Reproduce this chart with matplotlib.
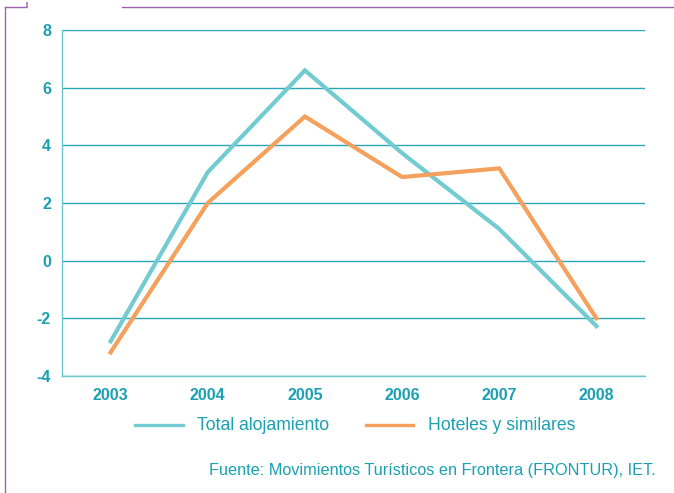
import matplotlib.pyplot as plt
from matplotlib.lines import Line2D

years = ['2003', '2004', '2005', '2006', '2007', '2008']
total_alojamiento = [-2.8, 3.07, 6.6, 3.73, 1.1, -2.27]
hoteles = [-3.18, 2.0, 5.0, 2.9, 3.2, -2.0]
yticks = [-4, -2, 0, 2, 4, 6, 8]

teal = '#72cbd0'
orange = '#f5a05c'
text_col = '#1aa0b2'
grid_col = '#2aa7b5'
purple = '#9c62b0'

plt.rcParams['font.family'] = ['Liberation Sans', 'DejaVu Sans']

fig = plt.figure(figsize=(6.74, 4.93), dpi=100)
ax = fig.add_axes([62 / 674, 1 - 376 / 493, 583 / 674, 346 / 493])

x = list(range(len(years)))
ax.plot(x, total_alojamiento, color=teal, lw=3.0, solid_joinstyle='miter', zorder=3)
ax.plot(x, hoteles, color=orange, lw=3.0, solid_joinstyle='miter', zorder=3)

ax.set_xlim(-0.5, 5.5)
ax.set_ylim(-4, 8)
ax.set_yticks(yticks)
ax.set_yticklabels([str(v) for v in yticks])
ax.set_xticks(x)
ax.set_xticklabels(years)
ax.tick_params(length=0, labelsize=11.5, colors=text_col)
ax.tick_params(axis='y', pad=8)
ax.tick_params(axis='x', pad=9)
for lab in ax.get_xticklabels() + ax.get_yticklabels():
    lab.set_fontweight('bold')
    lab.set_color(text_col)
ax.grid(axis='y', color=grid_col, lw=1.0, zorder=1)
for s in ['top', 'right']:
    ax.spines[s].set_visible(False)
for s in ['left', 'bottom']:
    ax.spines[s].set_color('#6cc6cc')
    ax.spines[s].set_linewidth(1.0)

# legend
ly = 1 - 425 / 493
fig.add_artist(Line2D([135 / 674, 183 / 674], [ly, ly], color=teal, lw=2.4))
fig.text(197 / 674, ly, 'Total alojamiento', color=text_col, fontsize=12.7,
         va='center', ha='left')
fig.add_artist(Line2D([366 / 674, 413 / 674], [ly, ly], color=orange, lw=2.4))
fig.text(428 / 674, ly, 'Hoteles y similares', color=text_col, fontsize=12.7,
         va='center', ha='left')

fig.text(209 / 674, 1 - 471 / 493, 'Fuente: Movimientos Turísticos en Frontera (FRONTUR), IET.',
         color=text_col, fontsize=11.7, va='center', ha='left')

# purple frame decoration
fig.add_artist(Line2D([5 / 674, 5 / 674], [0, 1 - 7 / 493], color=purple, lw=1))
fig.add_artist(Line2D([5 / 674, 26 / 674], [1 - 7 / 493] * 2, color=purple, lw=1))
fig.add_artist(Line2D([27 / 674, 27 / 674], [1 - 3 / 493, 1 - 4 / 493], color=purple, lw=1.2))
fig.add_artist(Line2D([27 / 674, 27 / 674], [1 - 6 / 493, 1 - 7 / 493], color=purple, lw=1.2))
fig.add_artist(Line2D([122 / 674, 1], [1 - 7 / 493] * 2, color=purple, lw=1))

fig.savefig('out.png', dpi=100)
